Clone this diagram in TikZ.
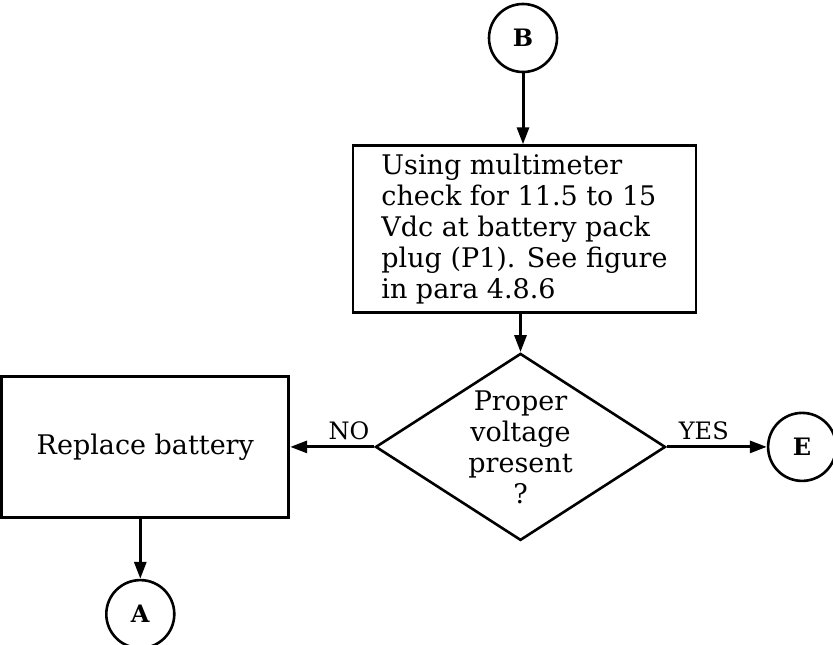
\documentclass[tikz,border=0pt]{standalone}
\usepackage{fontspec}
\setmainfont{DejaVu Serif}
\usetikzlibrary{positioning,arrows.meta,shapes.geometric}
\tikzset{
  fcarr/.style={-{Triangle[length=17pt,width=12pt]},line width=3pt},
  fcbox/.style={draw=black,line width=2.8pt,align=center,inner sep=0pt},
  fcdec/.style={draw=black,diamond,shape aspect=1.55,line width=2.6pt,align=center,inner sep=0pt},
  conn/.style={draw=black,circle,line width=2.6pt,minimum size=68pt,inner sep=0pt,
               font=\bfseries\fontsize{24}{28}\selectfont}
}

\begin{document}
\begin{tikzpicture}[x=1pt,y=-1pt,every node/.style={font=\fontsize{27}{31}\selectfont}]
\useasboundingbox (0,0) rectangle (833,645);

\node[conn] (B) at (523,38) {B};
\node[fcbox, minimum width=343pt, minimum height=167pt, align=left,
      below=71pt of B, xshift=1.5pt] (chk)
  {Using multimeter\\ check for 11.5 to 15\\ Vdc at battery pack\\ plug (P1). See figure\\ in para 4.8.6};

\node[fcdec, minimum width=290pt, minimum height=187pt, below=38pt of chk, xshift=-4pt] (dec)
  {Proper\\ voltage\\ present\\ ?};

\node[fcbox, minimum width=287pt, minimum height=141pt, left=84pt of dec] (rep) {Replace battery};
\node[conn, below=60pt of rep, xshift=-5pt] (A) {A};
\node[conn, right=100pt of dec] (E) {E};

\draw[fcarr] (B) -- (chk.north -| B);
\draw[fcarr] (chk.south -| dec) -- (dec.north);
\draw[fcarr] (dec.west) -- (rep.east |- dec.west) node[pos=0.3, above=2pt, font=\fontsize{24}{28}\selectfont] (no) {NO};
\draw[fcarr] (dec.east) -- (E) node[pos=0.37, above=2pt, font=\fontsize{24}{28}\selectfont] (yes) {YES};
\draw[fcarr] (rep.south -| A) -- (A);
\end{tikzpicture}
\end{document}
